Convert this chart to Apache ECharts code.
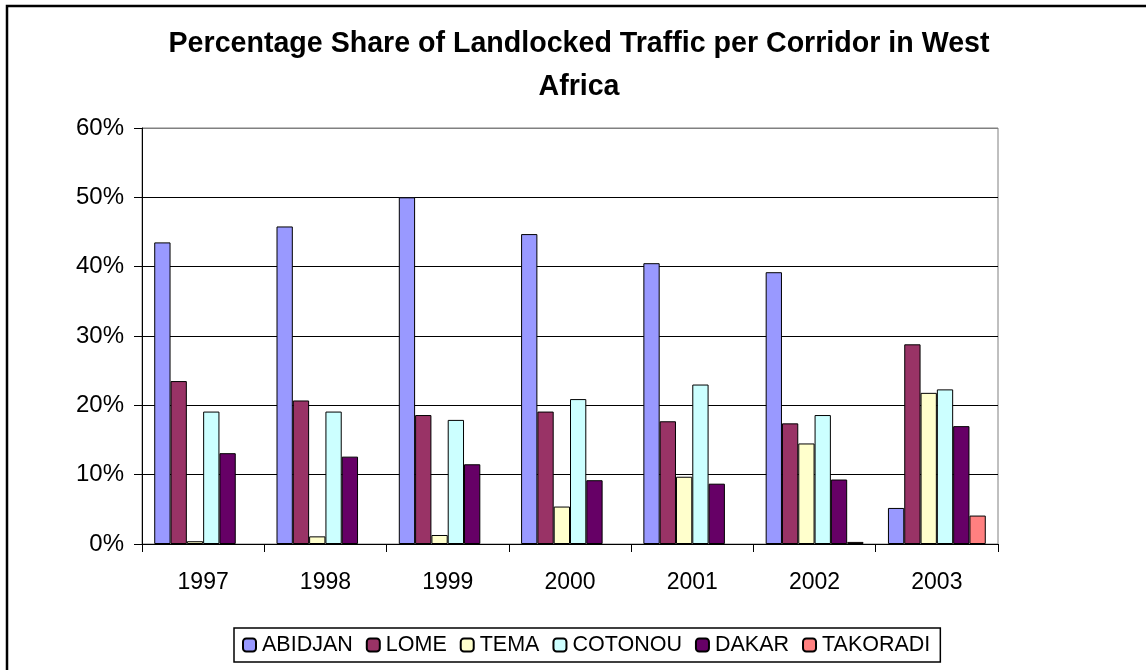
<!DOCTYPE html>
<html>
<head>
<meta charset="utf-8">
<script src="https://cdn.jsdelivr.net/npm/echarts@6/dist/echarts.min.js"></script>
<style>
html,body{margin:0;padding:0;background:#fff;}
#chart{width:1146px;height:670px;}
</style>
</head>
<body>
<div id="chart"></div>
<script>
const years = ['1997','1998','1999','2000','2001','2002','2003'];
const abidjan  = [43.5, 45.8, 50.0, 44.7, 40.5, 39.2, 5.2];
const lome     = [23.5, 20.7, 18.6, 19.1, 17.7, 17.4, 28.8];
const tema     = [0.4, 1.1, 1.3, 5.4, 9.7, 14.5, 21.8];
const cotonou  = [19.1, 19.1, 17.9, 20.9, 23.0, 18.6, 22.3];
const dakar    = [13.1, 12.6, 11.5, 9.2, 8.7, 9.3, 17.0];
const takoradi = [null, null, null, null, null, 0.3, 4.1];
const yTicks = [0, 10, 20, 30, 40, 50, 60];

const seriesDefs = [
  ['ABIDJAN', abidjan, '#9999FF'],
  ['LOME', lome, '#993366'],
  ['TEMA', tema, '#FFFFCC'],
  ['COTONOU', cotonou, '#CCFFFF'],
  ['DAKAR', dakar, '#660066'],
  ['TAKORADI', takoradi, '#FF8080']
];
const FONT = '"Liberation Sans", Arial, sans-serif';

const chart = echarts.init(document.getElementById('chart'), null, {renderer: 'canvas'});
chart.setOption({
  animation: false,
  backgroundColor: '#fff',
  textStyle: {fontFamily: FONT},
  title: {
    text: 'Percentage Share of Landlocked Traffic per Corridor in West\nAfrica',
    left: 579,
    textAlign: 'center',
    top: 23,
    padding: 0,
    textStyle: {fontFamily: FONT, fontWeight: 'bold', fontSize: 28.6, lineHeight: 43, color: '#000'}
  },
  graphic: [{
    type: 'rect',
    shape: {x: 7, y: 6, width: 1300, height: 900},
    style: {fill: 'none', stroke: '#000', lineWidth: 2.5},
    silent: true
  }],
  legend: {
    left: 234,
    top: 628,
    padding: [6, 10, 6, 8],
    itemWidth: 13,
    itemHeight: 13,
    itemGap: 13,
    borderColor: '#000',
    borderWidth: 1.5,
    textStyle: {fontFamily: FONT, fontSize: 21.5, color: '#000', padding: [0, 0, 0, 1]},
    data: seriesDefs.map(s => s[0])
  },
  grid: {
    left: 142, right: 148, top: 128, bottom: 126,
    show: true, borderColor: '#808080', borderWidth: 1, backgroundColor: 'transparent'
  },
  xAxis: {
    type: 'category',
    data: years,
    axisLine: {lineStyle: {color: '#000', width: 1}},
    axisTick: {show: true, length: 8, lineStyle: {color: '#000'}},
    axisLabel: {fontFamily: FONT, fontSize: 23, color: '#000', margin: 27},
    splitLine: {show: false}
  },
  yAxis: {
    type: 'value',
    min: yTicks[0],
    max: yTicks[yTicks.length - 1],
    interval: 10,
    axisLine: {show: true, lineStyle: {color: '#000', width: 1}},
    axisTick: {show: true, length: 8, lineStyle: {color: '#000'}},
    axisLabel: {fontFamily: FONT, fontSize: 24, color: '#000', margin: 18, formatter: '{value}%'},
    splitLine: {show: true, lineStyle: {color: ['#000','#000','#000','#000','#000','#000','#808080'], width: 1}}
  },
  series: seriesDefs.map(([name, data, color]) => ({
    name: name,
    type: 'bar',
    data: data,
    barGap: '0%',
    barCategoryGap: '20%',
    itemStyle: {color: color, borderColor: '#000', borderWidth: 1}
  }))
});
</script>
</body>
</html>
